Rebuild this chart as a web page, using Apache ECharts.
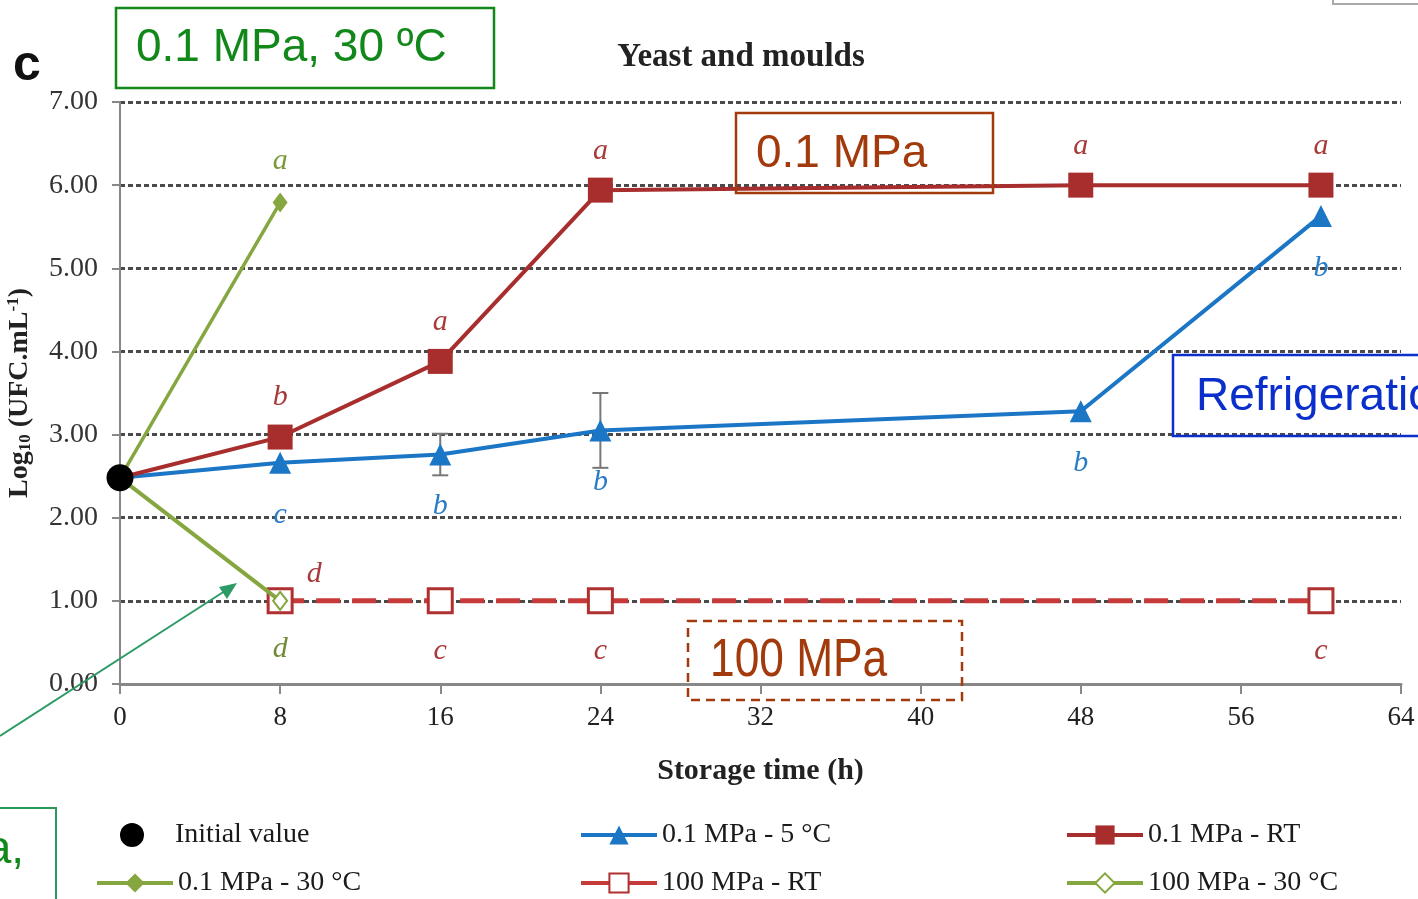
<!DOCTYPE html>
<html>
<head>
<meta charset="utf-8">
<script src="https://cdn.jsdelivr.net/npm/echarts@6/dist/echarts.min.js"></script>
<style>
  html, body { margin: 0; padding: 0; background: #fff; }
  #chart { width: 1418px; height: 899px; }
</style>
</head>
<body>
<div id="chart"></div>
<script>
// storage time (h) and counts, log10 UFC/mL
const hours = [0, 8, 16, 24, 48, 60];
const initialValue = [[0, 2.48]];

const cold = [2.48, 2.66, 2.76, 3.05, 3.28, 5.63];        // 0.1 MPa - 5 °C
const coldLetters = ['', 'c', 'b', 'b', 'b', 'b'];
const coldErr = [0, 0, 0.25, 0.45, 0, 0];

const rt = [2.48, 2.97, 3.88, 5.94, 6.0, 6.0];            // 0.1 MPa - RT
const rtLetters = ['', 'b', 'a', 'a', 'a', 'a'];

const warmHours = [0, 8];
const warm = [2.48, 5.79];                                 // 0.1 MPa - 30 °C
const warmLetters = ['', 'a'];

const hpRtHours = [8, 16, 24, 60];
const hpRt = [1.0, 1.0, 1.0, 1.0];                         // 100 MPa - RT
const hpRtLetters = ['d', 'c', 'c', 'c'];

const hpWarm = [2.48, 1.0];                                // 100 MPa - 30 °C
const hpWarmLetters = ['', 'd'];

const yTicks = [0, 1, 2, 3, 4, 5, 6, 7];

const RED = '#a82e2e';
const BLUE = '#1b76c6';
const GREEN = '#86a640';
const DRED = '#c73a3a';
const serif = '"Liberation Serif", "Times New Roman", serif';
const sans = '"Liberation Sans", Arial, sans-serif';

// the hour-0 point is the initial value, drawn by its own series
const pairs = (xs, ys) =>
  xs.map((x, i) => (x === 0 ? { value: [x, ys[i]], symbol: 'none' } : [x, ys[i]]));

const letterLabel = (letters, color, position, distance) => ({
  show: true,
  position,
  distance,
  formatter: (p) => letters[p.dataIndex] || '',
  fontFamily: serif,
  fontStyle: 'italic',
  fontSize: 30,
  color
});

const errData = hours
  .map((h, i) => [h, cold[i] - coldErr[i], cold[i] + coldErr[i]])
  .filter((d, i) => coldErr[i] > 0);

// first 100 MPa - RT letter sits up and to the right of the point
const hpRtData = pairs(hpRtHours, hpRt).map((d, i) =>
  i === 0 ? { value: d, label: { position: 'top', distance: 5, offset: [34, 7] } } : d
);

const chart = echarts.init(document.getElementById('chart'));

const legendBase = {
  orient: 'horizontal',
  itemWidth: 76,
  itemHeight: 24,
  padding: 0,
  selectedMode: false,
  lineStyle: { width: 4, type: 'solid' },
  textStyle: { fontFamily: serif, fontSize: 28, color: '#1a1a1a' }
};

chart.setOption({
  animation: false,
  backgroundColor: '#fff',
  title: {
    text: 'Yeast and moulds',
    left: 736,
    top: 36,
    textAlign: 'center',
    textStyle: { fontFamily: serif, fontSize: 33, fontWeight: 'bold', color: '#222' }
  },
  grid: { left: 120, right: 17, top: 102, bottom: 215, outerBoundsMode: 'none' },
  legend: [
    { ...legendBase, data: ['Initial value'], left: 120, top: 821 },
    { ...legendBase, data: ['0.1 MPa - 5 °C'], left: 579, top: 821 },
    { ...legendBase, data: ['0.1 MPa - RT'], left: 1065, top: 821 },
    { ...legendBase, data: ['0.1 MPa - 30 °C'], left: 95, top: 869 },
    { ...legendBase, data: ['100 MPa - RT'], left: 579, top: 869 },
    { ...legendBase, data: ['100 MPa - 30 °C'], left: 1065, top: 869 }
  ],
  xAxis: {
    type: 'value',
    min: 0,
    max: 64,
    interval: 8,
    name: 'Storage time (h)',
    nameLocation: 'middle',
    nameGap: 72,
    nameTextStyle: { fontFamily: serif, fontSize: 30, fontWeight: 'bold', color: '#222' },
    axisLine: { lineStyle: { color: '#888', width: 3 } },
    axisTick: { show: true, length: 10, lineStyle: { color: '#888', width: 2 } },
    axisLabel: { fontFamily: serif, fontSize: 27, color: '#222', margin: 20 },
    splitLine: { show: false }
  },
  yAxis: {
    type: 'value',
    min: 0,
    max: 7,
    interval: 1,
    name: '{b|Log}{s|10}{b| (UFC.mL}{p|-1}{b|)}',
    nameLocation: 'middle',
    nameRotate: 90,
    nameGap: 86,
    nameTextStyle: {
      rich: {
        b: { fontFamily: serif, fontSize: 28, fontWeight: 'bold', color: '#222' },
        s: { fontFamily: serif, fontSize: 17, fontWeight: 'bold', color: '#222', verticalAlign: 'bottom', padding: [12, 0, 0, 0] },
        p: { fontFamily: serif, fontSize: 17, fontWeight: 'bold', color: '#222', verticalAlign: 'top', padding: [0, 0, 10, 0] }
      }
    },
    axisLine: { show: true, lineStyle: { color: '#888', width: 2 } },
    axisTick: { show: true, length: 8, lineStyle: { color: '#888', width: 2 } },
    axisLabel: {
      fontFamily: serif,
      fontSize: 28,
      color: '#333',
      margin: 22,
      formatter: (v) => (yTicks.includes(v) ? v.toFixed(2) : '')
    },
    splitLine: { show: true, lineStyle: { color: '#4a4a4a', width: 3, type: [5, 3] } }
  },
  series: [
    {
      name: '0.1 MPa - 5 °C',
      type: 'line',
      data: pairs(hours, cold),
      symbol: 'triangle',
      symbolSize: 22,
      itemStyle: { color: BLUE },
      lineStyle: { color: BLUE, width: 4 },
      label: letterLabel(coldLetters, '#2a7cc8', 'bottom', 26),
      z: 3
    },
    {
      name: 'error',
      type: 'custom',
      data: errData,
      encode: { x: 0, y: [1, 2] },
      renderItem: (params, api) => {
        const top = api.coord([api.value(0), api.value(2)]);
        const bot = api.coord([api.value(0), api.value(1)]);
        const st = { stroke: '#777', lineWidth: 2 };
        return {
          type: 'group',
          children: [
            { type: 'line', shape: { x1: top[0], y1: top[1], x2: bot[0], y2: bot[1] }, style: st },
            { type: 'line', shape: { x1: top[0] - 8, y1: top[1], x2: top[0] + 8, y2: top[1] }, style: st },
            { type: 'line', shape: { x1: bot[0] - 8, y1: bot[1], x2: bot[0] + 8, y2: bot[1] }, style: st }
          ]
        };
      },
      z: 2
    },
    {
      name: '0.1 MPa - RT',
      type: 'line',
      data: pairs(hours, rt),
      symbol: 'rect',
      symbolSize: 25,
      itemStyle: { color: RED },
      lineStyle: { color: RED, width: 4 },
      label: letterLabel(rtLetters, '#a83a3a', 'top', 12),
      z: 4
    },
    {
      name: '100 MPa - RT',
      type: 'line',
      data: hpRtData,
      symbol: 'rect',
      symbolSize: 24,
      itemStyle: { color: '#fff', borderColor: '#b03030', borderWidth: 3 },
      lineStyle: { color: DRED, width: 5, type: [24, 12] },
      label: letterLabel(hpRtLetters, '#a83a3a', 'bottom', 22),
      z: 4
    },
    {
      name: '0.1 MPa - 30 °C',
      type: 'line',
      data: pairs(warmHours, warm),
      symbol: 'diamond',
      symbolSize: [15, 20],
      itemStyle: { color: GREEN },
      lineStyle: { color: GREEN, width: 3.5 },
      label: letterLabel(warmLetters, '#7a9a3a', 'top', 16),
      z: 5
    },
    {
      name: '100 MPa - 30 °C',
      type: 'line',
      data: pairs(warmHours, hpWarm),
      symbol: 'diamond',
      symbolSize: [14, 18],
      itemStyle: { color: '#fff', borderColor: GREEN, borderWidth: 2 },
      lineStyle: { color: GREEN, width: 4 },
      label: letterLabel(hpWarmLetters, '#6f8a35', 'bottom', 23),
      z: 5
    },
    {
      name: 'Initial value',
      type: 'scatter',
      data: initialValue,
      symbol: 'circle',
      symbolSize: 27,
      itemStyle: { color: '#000', opacity: 1 },
      z: 10
    }
  ],
  graphic: [
    { type: 'text', x: 13, y: 66, style: { text: 'c', font: 'bold 50px ' + sans, fill: '#111', verticalAlign: 'middle' } },
    // annotation boxes
    { type: 'rect', shape: { x: 116, y: 8, width: 378, height: 80 }, style: { fill: 'none', stroke: '#12881a', lineWidth: 2.5 }, z: 20 },
    { type: 'text', x: 136, y: 48, style: { text: '0.1 MPa, 30 ºC', font: '46px ' + sans, fill: '#12881a', verticalAlign: 'middle' }, z: 20 },
    { type: 'rect', shape: { x: 736, y: 113, width: 257, height: 80 }, style: { fill: 'none', stroke: '#a23a0c', lineWidth: 2.5 }, z: 20 },
    { type: 'text', x: 756, y: 154, style: { text: '0.1 MPa', font: '46px ' + sans, fill: '#a23a0c', verticalAlign: 'middle' }, z: 20 },
    { type: 'rect', shape: { x: 688, y: 621, width: 274, height: 79 }, style: { fill: 'none', stroke: '#a23a0c', lineWidth: 2.5, lineDash: [9, 6] }, z: 20 },
    { type: 'text', x: 710, y: 661, scaleX: 0.82, style: { text: '100 MPa', font: '54px ' + sans, fill: '#a23a0c', verticalAlign: 'middle' }, z: 20 },
    { type: 'rect', shape: { x: 1173, y: 355, width: 320, height: 81 }, style: { fill: 'none', stroke: '#0a2fcc', lineWidth: 2.5 }, z: 20 },
    { type: 'text', x: 1196, y: 397, style: { text: 'Refrigeration', font: '46px ' + sans, fill: '#0a2fcc', verticalAlign: 'middle' }, z: 20 },
    { type: 'rect', shape: { x: -300, y: 808, width: 356, height: 160 }, style: { fill: 'none', stroke: '#2a9a5a', lineWidth: 2 }, z: 20 },
    { type: 'text', x: 24, y: 850, style: { text: '100 MPa,', font: '46px ' + sans, fill: '#12881a', align: 'right', verticalAlign: 'middle' }, z: 20 },
    { type: 'rect', shape: { x: 1333, y: -50, width: 200, height: 54 }, style: { fill: 'none', stroke: '#aaa', lineWidth: 2 }, z: 20 },
    // green arrow
    { type: 'line', shape: { x1: 0, y1: 736, x2: 228, y2: 589 }, style: { stroke: '#2e9a66', lineWidth: 2 }, z: 20 },
    { type: 'polygon', shape: { points: [[237, 583], [219, 587], [227, 599]] }, style: { fill: '#2e9a66' }, z: 20 }
  ]
});
</script>
</body>
</html>
